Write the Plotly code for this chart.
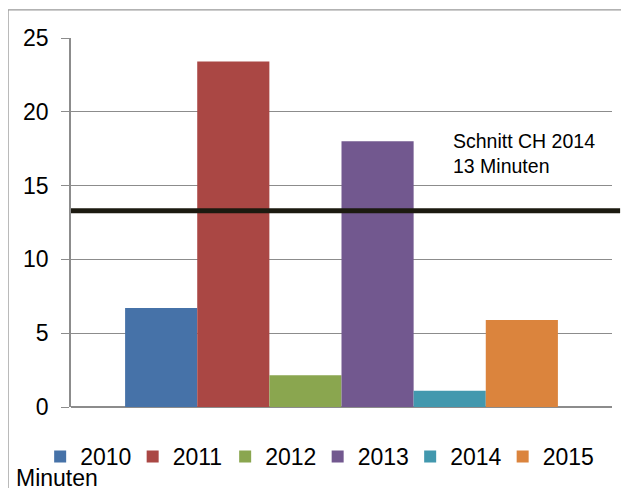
import plotly.graph_objects as go

years = ["2010", "2011", "2012", "2013", "2014", "2015"]
values = [6.7, 23.4, 2.15, 18.0, 1.1, 5.9]
colors = ["#4672a8", "#aa4744", "#8aa64f", "#72588f", "#4298ae", "#db843d"]
category = [""]
schnitt = 13.3
schnitt_label = "Schnitt CH 2014<br>13 Minuten"
label_y = 17.2
unit_label = "Minuten"
y_ticks = [0, 5, 10, 15, 20, 25]

fig = go.Figure()
for yr, v, c in zip(years, values, colors):
    fig.add_trace(go.Bar(name=yr, x=category, y=[v], marker=dict(color=c, line=dict(width=0))))

font = "Liberation Sans, Arial, Helvetica, sans-serif"
fig.update_layout(
    width=629, height=488,
    margin=dict(l=63, r=25, t=30, b=89, autoexpand=False),
    paper_bgcolor="white", plot_bgcolor="white",
    barmode="group", bargap=0.2, bargroupgap=0,
    font=dict(family=font, size=23, color="black"),
    showlegend=True,
    legend=dict(orientation="h", x=-0.057, y=-0.076, xanchor="left", yanchor="top",
                font=dict(size=23), itemwidth=30, tracegroupgap=0,
                entrywidth=47.5, entrywidthmode="pixels", bgcolor="rgba(0,0,0,0)"),
    xaxis=dict(showticklabels=False, showgrid=False, zeroline=False, showline=False, ticks=""),
    yaxis=dict(range=[0, 25], tickvals=y_ticks, showgrid=True, gridcolor="#8c8c8c", gridwidth=1.3,
               showline=True, linecolor="#8c8c8c", linewidth=1.5, ticks="outside", ticklen=8,
               tickcolor="#8c8c8c", tickwidth=1.3, zeroline=True, zerolinecolor="#8c8c8c",
               zerolinewidth=1.5, ticklabelstandoff=8, tickfont=dict(size=23)),
)

fig.add_shape(type="line", xref="paper", yref="y", x0=0, x1=1.015, y0=schnitt, y1=schnitt,
              line=dict(color="#1c1a10", width=5))
# outer frame (left and top)
fig.add_shape(type="line", xref="paper", yref="paper", x0=-0.1164, x1=-0.1164, y0=1.076, y1=-0.25,
              line=dict(color="#999999", width=1.3))
fig.add_shape(type="line", xref="paper", yref="paper", x0=-0.1164, x1=1.05, y0=1.076, y1=1.076,
              line=dict(color="#999999", width=1.3))

fig.add_annotation(text=schnitt_label, xref="paper", yref="y", x=0.702, y=label_y,
                   xanchor="left", yanchor="middle", showarrow=False, align="left",
                   font=dict(size=19.5, color="black"))
fig.add_annotation(text=unit_label, xref="paper", yref="paper", x=-0.105, y=-0.193,
                   xanchor="left", yanchor="middle", showarrow=False, font=dict(size=23, color="black"))

fig.write_html("out.html")
